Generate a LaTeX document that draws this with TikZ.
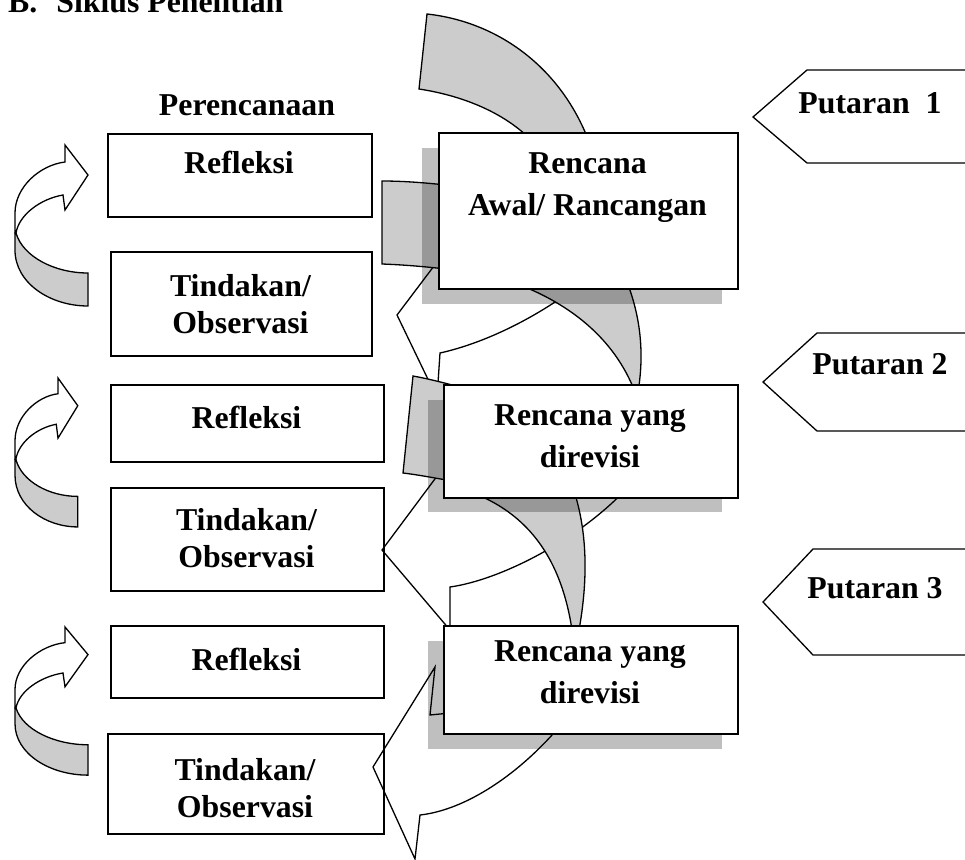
\documentclass[tikz,border=0pt]{standalone}
\usepackage{fontspec}
\setmainfont{Liberation Serif}
\usetikzlibrary{positioning}

\tikzset{putar/.pic={
	\filldraw[pita] (1,88) .. controls (8,112) and (40,128) .. (73,128) -- (73,161) .. controls (35,161) and (0,138) .. (0,105) -- (0,88) -- cycle;
	\filldraw[garis, fill=white] (50,17) -- (50,0) -- (73,30) -- (50,65) -- (48,50) .. controls (25,54) and (4,70) .. (1,88) -- (0,88) -- (0,68) .. controls (0,42) and (25,20) .. (50,17) -- cycle;
}}

\begin{document}
\begin{tikzpicture}[x=1pt, y=-1pt,
				   boks/.style={rectangle, draw=black, line width=1.6pt, fill=white, anchor=north west, inner sep=0pt},
				   bayang/.style={fill=black, fill opacity=0.25},
				   pita/.style={draw=black, line width=1.3pt, fill=black!20},
				   garis/.style={draw=black, line width=1.3pt},
				   tulis/.style={font=\fontsize{31.8}{42}\selectfont\bfseries, anchor=base, inner sep=0pt, align=center},
				   tulis2/.style={tulis, font=\fontsize{31.8}{37}\selectfont\bfseries}]
\useasboundingbox (0,0) rectangle (965,859);

\node[tulis, anchor=base west] (judul) at (8,13) {B.\hskip19pt Siklus Penelitian};
\node[tulis] (rencana) at (247,115) {Perencanaan};

\node[boks, minimum width=264pt, minimum height=83pt] (refl1) at (107,133) {};
\node[boks, minimum width=261pt, minimum height=104pt] (tind1) at (110,251) {};
\node[boks, minimum width=273pt, minimum height=77pt] (refl2) at (110,384) {};
\node[boks, minimum width=273pt, minimum height=103pt] (tind2) at (110,487) {};
\node[boks, minimum width=273pt, minimum height=72pt] (refl3) at (110,625) {};
\node[boks, minimum width=276pt, minimum height=100pt] (tind3) at (107,733) {};

\pic (pu1) at (15,145) {putar};
\pic[xscale=0.86, yscale=0.925] (pu2) at (15,378) {putar};
\pic[yscale=0.92] (pu3) at (15,627) {putar};

\filldraw[pita] (427,14) .. controls (500,22) and (565,70) .. (592,150) -- (540,150) .. controls (512,115) and (465,96) .. (419,89) -- cycle;
\draw[garis] (440,258) -- (397,315) -- (437,398) -- (440,353) .. controls (485,343) and (535,318) .. (575,288);

\filldraw[pita] (382,181) .. controls (410,181) and (440,184) .. (470,188) -- (470,272) .. controls (440,268) and (410,265) .. (382,264) -- cycle;
\filldraw[pita] (500,278) .. controls (570,300) and (615,340) .. (635,392) -- (638,392) .. controls (645,350) and (640,310) .. (622,270) -- cycle;
\draw[garis] (455,452) -- (382,550) -- (450,630) -- (450,587) .. controls (500,580) and (580,540) .. (630,485);

\filldraw[pita] (413,376) -- (403,473) .. controls (420,475) and (440,479) .. (480,486) -- (480,392) .. controls (455,386) and (435,380) .. (413,376) -- cycle;
\filldraw[pita] (455,487) .. controls (520,505) and (560,550) .. (572,630) -- (579,630) .. controls (588,580) and (588,530) .. (572,485) -- cycle;
\draw[garis] (460,712) -- (430,715) -- (435,667) -- (373,767) -- (415,859) -- (420,815) .. controls (465,810) and (520,775) .. (565,720);

\fill[bayang] (422,148) rectangle (722,304);
\fill[bayang] (428,400) rectangle (722,512);
\fill[bayang] (428,641) rectangle (722,749);

\node[boks, minimum width=299pt, minimum height=156pt] (awal) at (438,132) {};
\node[boks, minimum width=294pt, minimum height=113pt] (revisi1) at (443,384) {};
\node[boks, minimum width=294pt, minimum height=108pt] (revisi2) at (443,625) {};

\draw[garis] (975,70) -- (807,70) -- (753,117) -- (807,163) -- (975,163);
\draw[garis] (975,333) -- (817,333) -- (763,382) -- (817,431) -- (975,431);
\draw[garis] (975,549) -- (813,549) -- (763,602) -- (813,655) -- (975,655);

\node[tulis] (trefl1) at (239,173) {Refleksi};
\node[tulis2] (ttind1) at (240.5,333) {Tindakan/\\Observasi};
\node[tulis] (trefl2) at (246.5,428) {Refleksi};
\node[tulis2] (ttind2) at (246.5,567) {Tindakan/\\Observasi};
\node[tulis] (trefl3) at (246.5,670) {Refleksi};
\node[tulis2] (ttind3) at (245,817) {Tindakan/\\Observasi};

\node[tulis] (tawal) at (587.5,215) {Rencana\\Awal/ Rancangan};
\node[tulis] (trev1) at (590,467) {Rencana yang\\direvisi};
\node[tulis] (trev2) at (590,703) {Rencana yang\\direvisi};

\node[tulis] (tput1) at (870,113) {Putaran\ \ 1};
\node[tulis] (tput2) at (880,374) {Putaran 2};
\node[tulis] (tput3) at (875,598) {Putaran 3};
\end{tikzpicture}
\end{document}
